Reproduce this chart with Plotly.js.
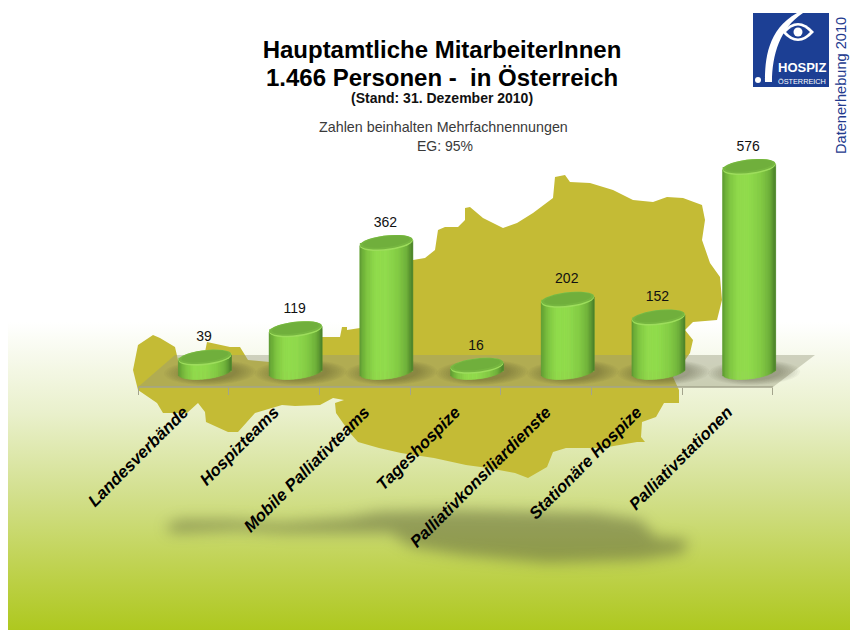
<!DOCTYPE html>
<html><head><meta charset="utf-8">
<script src="https://cdn.plot.ly/plotly-3.0.1.min.js"></script>
<style>html,body{margin:0;padding:0;background:#fff}#c{width:850px;height:630px}</style></head>
<body><div id="c"></div>
<script>
const categories = ["Landesverbände","Hospizteams","Mobile Palliativteams","Tageshospize","Palliativkonsiliardienste","Stationäre Hospize","Palliativstationen"];
const values = [39,119,362,16,202,152,576];
const titleLines = ["Hauptamtliche MitarbeiterInnen","1.466 Personen -  in Österreich"];
const gradStops = [[0,[92,150,50]],[.05,[108,172,56]],[.14,[128,198,66]],[.3,[146,220,78]],[.5,[146,220,78]],[.72,[132,204,70]],[.88,[112,178,60]],[.96,[88,146,48]],[1,[72,126,42]]];
const mapOutline = [[133,370],[138,345],[153,335],[160,338],[175,347],[178,360],[205,352],[207,342],[230,347],[240,347],[248,360],[270,362],[295,345],[322,337],[340,337],[342,327],[347,327],[347,330],[360,328],[385,300],[413,260],[425,258],[435,250],[438,230],[445,227],[458,227],[465,220],[465,208],[470,207],[483,218],[503,228],[517,223],[533,213],[553,198],[555,177],[565,175],[570,182],[590,183],[613,190],[633,200],[653,202],[667,197],[683,198],[702,205],[705,220],[702,240],[710,263],[720,277],[722,300],[717,320],[693,322],[685,330],[693,340],[690,353],[673,377],[679,390],[679,403],[664,403],[656,417],[642,422],[641,437],[645,442],[637,442],[602,448],[566,448],[553,452],[547,467],[528,478],[515,473],[488,468],[466,465],[434,458],[401,453],[379,448],[358,442],[350,433],[336,413],[335,403],[344,400],[333,398],[320,405],[295,406],[282,405],[255,413],[238,432],[228,432],[206,422],[205,412],[198,403],[187,413],[163,413],[157,403],[138,390]];
const shadowOutline = [[165,527],[179,520],[228,520],[282,523],[347,518],[379,512],[461,510],[596,513],[640,520],[656,537],[688,540],[683,553],[640,560],[547,563],[461,555],[412,547],[390,533],[282,533],[238,530],[173,533]];

const W=850,H=630,L=138,T=100,R=15,B=243;
const pw=W-L-R, ph=H-T-B, catW=90.7, pxPerUnit=0.355, a=26.5, ry=7.5, tilt=2.8;
const yZero=371.5, shift=21.6/catW, barW=2*a/catW;
const xMax=-0.5+pw/catW, yMin=-(T+ph-yZero)/pxPerUnit, yMax=(yZero-T)/pxPerUnit;
const px=x=>(x-L)/pw, py=y=>1-(y-T)/ph;
const FONT='"Liberation Sans",Arial,sans-serif';

function background(){
  const cv=document.createElement('canvas');cv.width=W;cv.height=H;const g=cv.getContext('2d');
  g.fillStyle='#fff';g.fillRect(0,0,W,H);
  const gr=g.createLinearGradient(0,322,0,630);
  gr.addColorStop(0,'#ffffff');gr.addColorStop(.3,'#e9f0cb');gr.addColorStop(.55,'#d3e08f');gr.addColorStop(.8,'#bfd24f');gr.addColorStop(1,'#aec81f');
  g.fillStyle=gr;g.fillRect(8,322,W-8,H-322);
  const poly=o=>{g.beginPath();o.forEach((p,i)=>i?g.lineTo(p[0],p[1]):g.moveTo(p[0],p[1]));g.closePath();g.fill();};
  g.filter='blur(7px)';g.fillStyle='rgba(80,85,55,.46)';poly(shadowOutline);
  g.filter='blur(.6px)';g.fillStyle='#c4bb35';poly(mapOutline);
  g.filter='none';
  g.fillStyle='rgba(150,152,125,.42)';poly([[138,387],[773,387],[815,355],[175,355]]);
  // logo mark
  g.fillStyle='#1c3f94';g.fillRect(753,13,76,74);
  g.fillStyle='#fff';g.beginPath();g.moveTo(765,82);g.bezierCurveTo(765,60,767,30,797,13);g.lineTo(803,13);g.bezierCurveTo(780,28,772,55,772,82);g.closePath();g.fill();
  g.beginPath();g.arc(758,80,3,0,7);g.fill();
  const lens=(hw,hh)=>{g.beginPath();g.moveTo(798-hw,32);g.quadraticCurveTo(798,32-2*hh,798+hw,32);g.quadraticCurveTo(798,32+2*hh,798-hw,32);g.closePath();g.fill();};
  lens(16,9);g.fillStyle='#1c3f94';lens(12,6.5);
  g.fillStyle='#fff';g.beginPath();g.arc(798,32,4.5,0,7);g.fill();
  return cv.toDataURL('image/png');
}
function mix(t){
  for(let i=1;i<gradStops.length;i++){
    if(t<=gradStops[i][0]){
      const A=gradStops[i-1],Bb=gradStops[i],f=(t-A[0])/(Bb[0]-A[0]);
      const c=A[1].map((v,j)=>Math.round(v+(Bb[1][j]-v)*f));
      return 'rgb('+c.join(',')+')';
    }
  }
  return 'rgb(72,126,42)';
}
function ellipsePath(i,v,aPx,ryPx,tiltPx,dyPx){
  let s='';
  for(let d=0;d<360;d+=12){
    const th=d*Math.PI/180;
    const x=i+shift+(aPx/catW)*Math.cos(th);
    const up=ryPx*Math.sin(th)+tiltPx*Math.cos(th)+(dyPx||0);
    s+=(d?'L':'M')+x.toFixed(4)+' '+(v+up/pxPerUnit).toFixed(3)+' ';
  }
  return s+'Z';
}
const eShape=(i,v,A,Ry,Ti,dy,color,layer)=>({type:'path',xref:'x2',yref:'y',path:ellipsePath(i,v,A,Ry,Ti,dy),fillcolor:color,line:{width:0},layer:layer||'above'});

const shapes=[];
values.forEach((v,i)=>{
  for(let r=0;r<9;r++) shapes.push(eShape(i+5/catW,0,46-r*2.4,12.5-r*.6,1,-1,'rgba(70,70,40,.045)','below'));
});
shapes.push({type:'line',xref:'x',yref:'paper',x0:-0.5,x1:6.5,y0:0,y1:0,line:{color:'#a3a48c',width:1.5},layer:'below'});
values.forEach((v,i)=>{
  shapes.push(eShape(i,v,a,ry,tilt,0,'#9ddd5c'));
  shapes.push(eShape(i,v,a-.3,ry-.8,tilt,0.8,'#76b640'));
  shapes.push(eShape(i,v,a-3,ry-2.2,tilt,1.2,'#70af3c'));
});

const data=[{type:'bar',x:categories,y:values,xaxis:'x',yaxis:'y',width:barW,offset:shift-barW/2,marker:{color:'#7dc03f'},cliponaxis:false,showlegend:false,hoverinfo:'x+y'}];
const N=40;
for(let k=0;k<N;k++){
  const t=-1+(2*k+1)/N, col=mix((k+.5)/N);
  const base=values.map(()=>-(ry*Math.sqrt(1-t*t)-tilt*t)/pxPerUnit);
  const top=values.map(v=>v+tilt*t/pxPerUnit);
  data.push({type:'bar',x:categories,y:top.map((u,j)=>u-base[j]),base:base,xaxis:'x',yaxis:'y',
    width:barW/N,offset:shift-barW/2+k*barW/N,marker:{color:col,line:{color:col,width:.6}},cliponaxis:false,showlegend:false,hoverinfo:'skip'});
}
data.push({type:'scatter',mode:'text',x:values.map((v,i)=>i+shift-1/catW),y:values.map(v=>v+19.8/pxPerUnit),xaxis:'x2',yaxis:'y',
  text:values.map(String),textposition:'middle center',textfont:{family:FONT,size:14,color:'#111'},showlegend:false,hoverinfo:'skip'});

const ann=(text,x,y,size,color,extra)=>Object.assign({text,xref:'paper',yref:'paper',x:px(x),y:py(y),showarrow:false,xanchor:'center',yanchor:'middle',font:{family:FONT,size,color}},extra||{});
const layout={
  width:W,height:H,margin:{l:L,r:R,t:T,b:B},paper_bgcolor:'rgba(0,0,0,0)',plot_bgcolor:'rgba(0,0,0,0)',showlegend:false,barmode:'overlay',
  title:{text:'<b>'+titleLines[0]+'</b>',xref:'paper',yref:'paper',x:px(442),xanchor:'center',y:py(50),yanchor:'middle',automargin:false,font:{family:FONT,size:24,color:'#000'}},
  xaxis:{type:'category',range:[-.5,xMax],tickson:'boundaries',ticks:'outside',ticklen:7,tickcolor:'#a3a48c',tickwidth:1,showline:false,showgrid:false,zeroline:false,tickangle:-45,ticklabelstandoff:11,
    tickfont:{family:FONT,size:16.8,color:'#000',weight:'bold',style:'italic'},fixedrange:true},
  xaxis2:{type:'linear',overlaying:'x',range:[-.5,xMax],visible:false,fixedrange:true},
  yaxis:{range:[yMin,yMax],visible:false,fixedrange:true},
  images:[{source:background(),xref:'paper',yref:'paper',x:px(0),y:py(0),sizex:W/pw,sizey:H/ph,sizing:'stretch',xanchor:'left',yanchor:'top',layer:'below'}],
  shapes:shapes,
  annotations:[
    ann('<b>'+titleLines[1]+'</b>',442,77,24,'#000'),
    ann('<b>(Stand: 31. Dezember 2010)</b>',442,98,14,'#111'),
    ann('Zahlen beinhalten Mehrfachnennungen',443,127,14.3,'#3a3a3a'),
    ann('EG: 95%',445,146,14,'#3a3a3a'),
    ann('Datenerhebung 2010',841,86,14.6,'#233a8e',{textangle:-90}),
    ann('<b>HOSPIZ</b>',802,67.5,13,'#fff'),
    ann('ÖSTERREICH',802,81,7.3,'#fff')
  ]
};
Plotly.newPlot('c',data,layout,{displayModeBar:false,staticPlot:true});
</script></body></html>
